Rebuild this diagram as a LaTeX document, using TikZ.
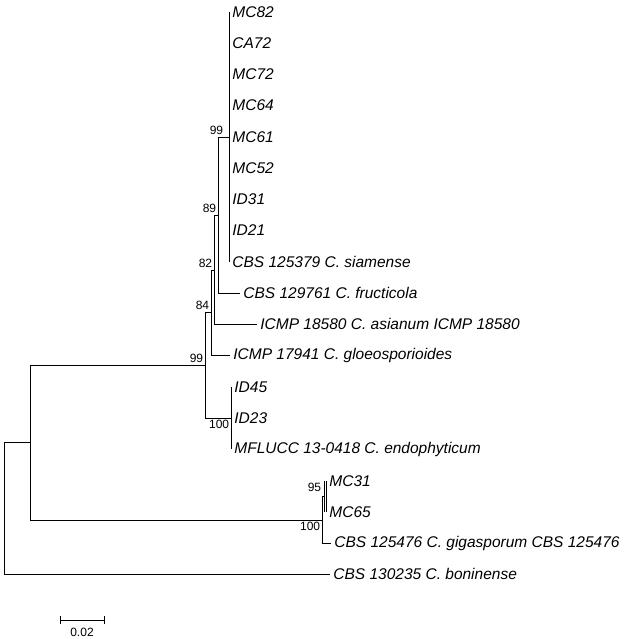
\documentclass[tikz,border=0pt]{standalone}
\usepackage{fontspec}
\setmainfont{Liberation Sans}
\begin{document}
\begin{tikzpicture}[x=1pt,y=-1pt,line width=0.8pt,
  leaf/.style={anchor=west,inner sep=3pt,font=\fontsize{15.5}{18}\selectfont\itshape},
  bs/.style={anchor=south east,inner sep=1.5pt,font=\fontsize{12}{14}\selectfont}]
\useasboundingbox (0,0) rectangle (643,638);
% leaves
\foreach \n/\y/\x/\t in {a/12/229/MC82,b/43/229/CA72,c/74/229/MC72,d/105/229/MC64,e/137/229/MC61,f/168/229/MC52,g/199/229/ID31,h/230/229/ID21,i/262/229/CBS 125379 C. siamense,
 j/293/240/CBS 129761 C. fructicola,k/324/257/ICMP 18580 C. asianum ICMP 18580,l/355/230/ICMP 17941 C. gloeosporioides,
 m/387/231/ID45,n/418/231/ID23,o/449/231/MFLUCC 13-0418 C. endophyticum,
 p/481/326/MC31,q/512/326/MC65,r/543/331/CBS 125476 C. gigasporum CBS 125476,s/574/330/CBS 130235 C. boninense}
 {\coordinate (\n) at (\x,\y); \node[leaf] (t\n) at (\n) {\t};}
% internal nodes
\coordinate (n99a) at (225,137);
\coordinate (n89) at (218,215);
\coordinate (n82) at (214,270);
\coordinate (n84) at (211,312);
\coordinate (n100) at (231,418);
\coordinate (n99b) at (205,365);
\coordinate (n95) at (324,496);
\coordinate (n100b) at (322,520);
\coordinate (nA) at (30,442);
\coordinate (root) at (4,508);
% top clade
\draw (229,12) -- (229,262);
\draw (n99a) -- (229,137);
\draw (n89) -- (n89|-n99a) -- (n99a);
\draw (n89) -- (n89|-j) -- (j);
\draw (n82|-n89) -- (n89); \draw (n82|-n89) -- (n82|-k) -- (k);
\draw (n84|-n82) -- (n82); \draw (n84|-n82) -- (n84|-l) -- (l);
\draw (n99b|-n84) -- (n84); \draw (n99b|-n84) -- (n99b|-n100) -- (n100);
\draw (m) -- (o);
\draw (nA|-n99b) -- (n99b); \draw (nA|-n99b) -- (nA|-n100b) -- (n100b);
\draw (n100b|-r) -- (n100b|-n95); \draw (n100b|-r) -- (r); \draw (n100b|-n95) -- (n95);
\draw (p) -- (q); \draw (n95|-p) -- (n95|-q);
\draw (root|-nA) -- (nA); \draw (root|-nA) -- (root|-s) -- (s);
% bootstrap labels
\node[bs] at (n99a) {99};
\node[bs] at (n89) {89};
\node[bs] at (n82) {82};
\node[bs] at (n84) {84};
\node[bs] at (n99b) {99};
\node[bs,anchor=north east] at (n100) {100};
\node[bs] at (323,494) {95};
\node[bs,anchor=north east] at (n100b) {100};
% scale bar
\coordinate (sb1) at (60,620); \coordinate (sb2) at (104,620);
\draw (sb1) -- (sb2);
\draw (60,616) -- (60,624); \draw (104,616) -- (104,624);
\node[font=\fontsize{12}{14}\selectfont] (sbl) at (82,632) {0.02};
\end{tikzpicture}
\end{document}
